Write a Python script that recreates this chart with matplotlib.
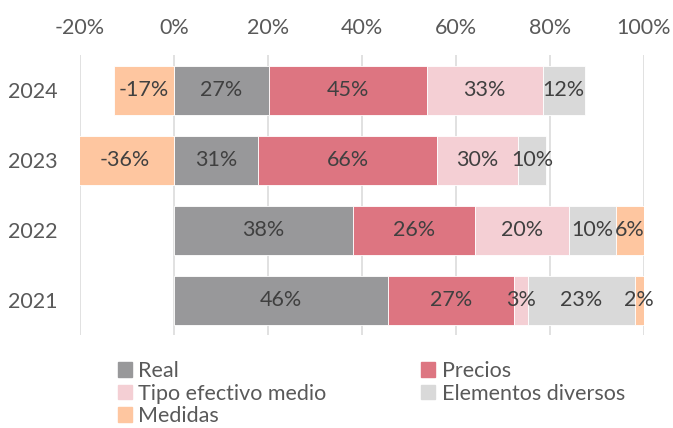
import numpy as np
import matplotlib.pyplot as plt
from matplotlib.patches import Patch

plt.rcParams['font.family'] = ['Lato', 'DejaVu Sans']

years = ['2024', '2023', '2022', '2021']
# contribution of each component, in % of the year's total change
real = [27, 31, 38, 46]
precios = [45, 66, 26, 27]
tipo = [33, 30, 20, 3]
elementos = [12, 10, 10, 23]
medidas = [-17, -36, 6, 2]
# size of the year's total change on the axis scale (%)
total = [74.7, 57.7, 100, 99]

series = [
    ('Real', real, '#98989A'),
    ('Precios', precios, '#DD7581'),
    ('Tipo efectivo medio', tipo, '#F4CFD4'),
    ('Elementos diversos', elementos, '#D9D9D9'),
    ('Medidas', medidas, '#FEC6A0'),
]

fig = plt.figure(figsize=(6.73, 4.28), dpi=100)
ax = fig.add_axes([80 / 673, 93 / 428, 564 / 673, 280 / 428])

y = np.arange(len(years))
scale = np.array(total) / 100
pos_left = np.zeros(len(years))
neg_left = np.zeros(len(years))

for name, vals, color in series:
    vals = np.array(vals, dtype=float)
    widths = vals * scale
    lefts = np.where(widths >= 0, pos_left, neg_left)
    ax.barh(y, widths, left=lefts, height=0.7, color=color,
            edgecolor='white', linewidth=0.6, zorder=2)
    for i, (v, w, l) in enumerate(zip(vals, widths, lefts)):
        ax.text(l + w / 2, y[i], f'{int(v)}%', ha='center', va='center',
                fontsize=15.5, color='#404040', zorder=3)
    pos_left = np.where(widths >= 0, pos_left + widths, pos_left)
    neg_left = np.where(widths < 0, neg_left + widths, neg_left)

ax.set_xlim(-20, 100)
ax.set_ylim(3.5, -0.5)
ax.set_xticks(np.arange(-20, 101, 20))
ax.set_xticklabels([f'{t}%' for t in range(-20, 101, 20)])
ax.set_yticks(y)
ax.set_yticklabels(years)
ax.xaxis.tick_top()
ax.tick_params(axis='x', length=0, pad=12, labelsize=15.5, labelcolor='#595959')
ax.tick_params(axis='y', length=0, pad=16, labelsize=15.5, labelcolor='#595959')
ax.grid(axis='x', color='#D9D9D9', linewidth=1.1, zorder=0)
ax.set_axisbelow(True)
for s in ax.spines.values():
    s.set_visible(False)

handles = [Patch(color=c, label=n) for n, _, c in series]
order = [0, 2, 4, 1, 3]
fig.legend([handles[i] for i in order], [series[i][0] for i in order],
           loc='upper left', bbox_to_anchor=(118 / 673, 1 - 361 / 428),
           ncol=2, frameon=False, fontsize=15.5, labelcolor='#595959',
           handlelength=0.65, handleheight=0.65, handletextpad=0.3,
           labelspacing=0.12, columnspacing=4.4, borderaxespad=0,
           borderpad=0)

fig.savefig('out.png', dpi=100)
